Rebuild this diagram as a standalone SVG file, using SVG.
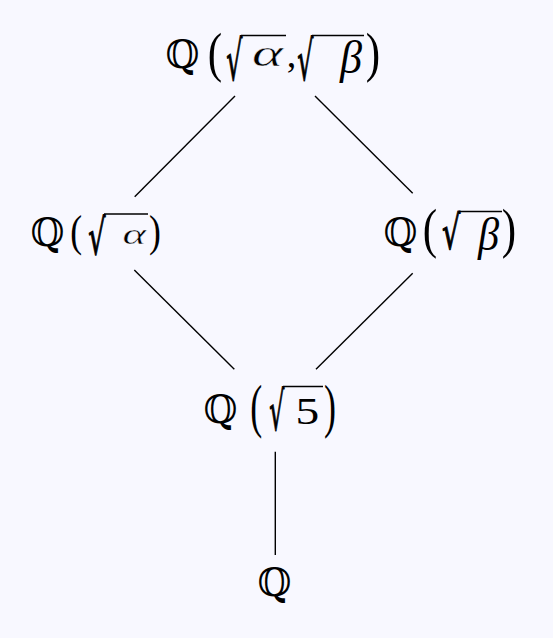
<svg xmlns="http://www.w3.org/2000/svg" width="553" height="638" viewBox="0 0 553 638">
<style>
text{fill:#000}
.bb{font-family:"DejaVu Serif","Noto Sans",serif;font-size:39px}
.pa{font-family:"Liberation Serif",serif}
.rd{font-family:"DejaVu Serif",serif;stroke:#000;stroke-width:1.1;stroke-linejoin:round}
.it{font-family:"Liberation Serif",serif;font-style:italic}
.al{stroke:#f8f8ff;stroke-width:0.4}
.rm{font-family:"Liberation Serif",serif}
.vin{stroke:#000;stroke-width:1.7}
.edge{stroke:#000;stroke-width:1.4;fill:none}
</style>
<rect width="553" height="638" fill="#f8f8ff"/>
<g id="edges">
<line class="edge" x1="235" y1="96" x2="134.7" y2="196.7"/>
<line class="edge" x1="315" y1="96" x2="412.7" y2="193.3"/>
<line class="edge" x1="134.3" y1="270" x2="234.3" y2="369.3"/>
<line class="edge" x1="412.7" y1="273.3" x2="316" y2="369.3"/>
<line class="edge" x1="275.3" y1="451.7" x2="275.3" y2="555"/>
</g>
<g id="n-top">
<text class="bb" x="165.4" y="68">ℚ</text>
<text class="pa" transform="translate(207.8,71.2) scale(0.8,1)" font-size="54">(</text>
<text class="rd" transform="translate(226.2,79.9) scale(0.464,1)" font-size="54.8">√</text>
<line class="vin" x1="241" y1="35.5" x2="286" y2="35.5"/>
<text class="it al" transform="translate(252,65.5) scale(1.6,1)" font-size="37">α</text>
<text class="pa" x="286.8" y="67.4" font-size="38">,</text>
<text class="rd" transform="translate(297.2,79.9) scale(0.464,1)" font-size="54.8">√</text>
<line class="vin" x1="312" y1="35.5" x2="364" y2="35.5"/>
<text class="it" transform="translate(340,72.5) scale(0.96,1)" font-size="46">β</text>
<text class="pa" transform="translate(365.7,71.2) scale(0.8,1)" font-size="54">)</text>
</g>
<g id="n-left">
<text class="bb" x="30.4" y="246">ℚ</text>
<text class="pa" transform="translate(70.2,246.3) scale(0.82,1)" font-size="43.5">(</text>
<text class="rd" transform="translate(88.2,254) scale(0.556,1)" font-size="48.8">√</text>
<line class="vin" x1="104" y1="214" x2="148" y2="214"/>
<text class="it al" transform="translate(122.4,244) scale(1.5,1)" font-size="30">α</text>
<text class="pa" transform="translate(148.9,246.3) scale(0.82,1)" font-size="43.5">)</text>
</g>
<g id="n-right">
<text class="bb" x="383.4" y="246">ℚ</text>
<text class="pa" transform="translate(422.8,247.2) scale(0.8,1)" font-size="54">(</text>
<text class="rd" transform="translate(442.1,249.1) scale(0.62,1)" font-size="46.4">√</text>
<line class="vin" x1="459" y1="211.5" x2="502" y2="211.5"/>
<text class="it" transform="translate(478,249.5) scale(0.9,1)" font-size="47">β</text>
<text class="pa" transform="translate(501.7,247.2) scale(0.8,1)" font-size="54">)</text>
</g>
<g id="n-mid">
<text class="bb" x="203.4" y="423">ℚ</text>
<text class="pa" transform="translate(250.2,426) scale(0.6,1)" font-size="60">(</text>
<text class="rd" transform="translate(269.3,430) scale(0.443,1)" font-size="53.6">√</text>
<line class="vin" x1="283" y1="386.5" x2="323" y2="386.5"/>
<text class="rm" transform="translate(295.6,423.5) scale(1.25,1)" font-size="38">5</text>
<text class="pa" transform="translate(323.9,426) scale(0.6,1)" font-size="60">)</text>
</g>
<g id="n-bottom">
<text class="bb" x="257.4" y="596">ℚ</text>
</g>
</svg>
